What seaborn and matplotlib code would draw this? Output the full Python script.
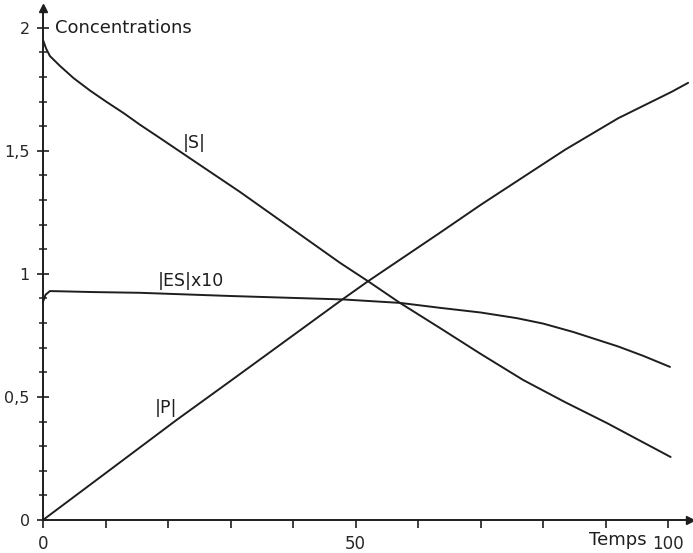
import numpy as np
import pandas as pd
import matplotlib
matplotlib.use("Agg")
import matplotlib.pyplot as plt
import seaborn as sns

# values
t_s = [0, 0.5, 1.1, 2.7, 4.9, 7.5, 10.2, 12.9, 15.5, 18.4, 25, 31.5, 40,
       47.5, 52, 57.1, 63.5, 70, 76.8, 83.5, 90.2, 95, 100.4]
conc_s = [1.95, 1.915, 1.885, 1.845, 1.795, 1.745, 1.698, 1.653, 1.606,
          1.557, 1.444, 1.333, 1.18, 1.045, 0.97, 0.882, 0.78, 0.675,
          0.569, 0.479, 0.394, 0.329, 0.256]

t_es = [0, 0.4, 1.1, 3, 8, 15.5, 30, 48, 57.1, 63.5, 70, 75.8, 80, 84.8,
        92, 96, 100.3]
conc_es10 = [0.886, 0.915, 0.93, 0.929, 0.926, 0.923, 0.91, 0.896, 0.882,
             0.862, 0.843, 0.82, 0.798, 0.764, 0.705, 0.667, 0.622]

t_p = [0, 10, 21.4, 30, 40, 48, 52, 63.5, 70, 83.5, 92, 100.6, 103.2]
conc_p = [0, 0.19, 0.407, 0.565, 0.75, 0.898, 0.97, 1.167, 1.28, 1.504,
          1.632, 1.74, 1.776]

y_ticks = [0, 0.5, 1, 1.5, 2]
y_tick_labels = ["0", "0,5", "1", "1,5", "2"]
x_ticks = [0, 50, 100]
x_tick_labels = ["0", "50", "100"]

curves = pd.concat([
    pd.DataFrame({"t": t_s, "c": conc_s, "curve": "S"}),
    pd.DataFrame({"t": t_es, "c": conc_es10, "curve": "ES"}),
    pd.DataFrame({"t": t_p, "c": conc_p, "curve": "P"}),
], ignore_index=True)

sns.set_style("white")
plt.rcParams["font.family"] = ["DejaVu Sans"]
ink = "#1e1e1e"

fig = plt.figure(figsize=(6.93, 5.53), dpi=100)
ax = fig.add_axes([43 / 693, 33 / 553, 647 / 693, 512 / 553])

sns.lineplot(data=curves, x="t", y="c", units="curve", estimator=None,
             color=ink, linewidth=1.4, sort=False, ax=ax, clip_on=False)

ax.set_xlim(0, 103.5)
ax.set_ylim(0, 2.08)
ax.set_xlabel("")
ax.set_ylabel("")

for side in ["top", "right"]:
    ax.spines[side].set_visible(False)
for side in ["left", "bottom"]:
    ax.spines[side].set_color(ink)
    ax.spines[side].set_linewidth(1.4)

# arrow heads on the axes
ax.plot(1, 0, ">", color=ink, markersize=6, transform=ax.get_yaxis_transform(), clip_on=False)
ax.plot(0, 1, "^", color=ink, markersize=6, transform=ax.get_xaxis_transform(), clip_on=False)

ax.set_yticks(y_ticks)
ax.set_yticklabels(y_tick_labels)
ax.set_yticks(np.arange(0, 2.01, 0.1), minor=True)
ax.set_xticks(x_ticks)
ax.set_xticklabels(x_tick_labels)
ax.set_xticks(np.arange(0, 101, 10), minor=True)

ax.tick_params(axis="y", which="major", direction="inout", length=9, width=1.2,
               color=ink, labelsize=11.5, pad=5, left=True)
ax.tick_params(axis="y", which="minor", direction="inout", length=6, width=1.1,
               color=ink, left=True)
ax.tick_params(axis="x", which="both", direction="out", length=6, width=1.2,
               color=ink, labelsize=12, pad=5, bottom=True)

ax.text(1.9, 2.0, "Concentrations", fontsize=13, color=ink, va="center", ha="left")
ax.text(96.6, -0.08, "Temps", fontsize=13, color=ink, va="center", ha="right")
ax.text(22.4, 1.53, "|S|", fontsize=12.5, color=ink, va="center", ha="left")
ax.text(18.4, 0.97, "|ES|x10", fontsize=12.5, color=ink, va="center", ha="left")
ax.text(17.9, 0.455, "|P|", fontsize=12.5, color=ink, va="center", ha="left")

fig.savefig("out.png", dpi=100)
